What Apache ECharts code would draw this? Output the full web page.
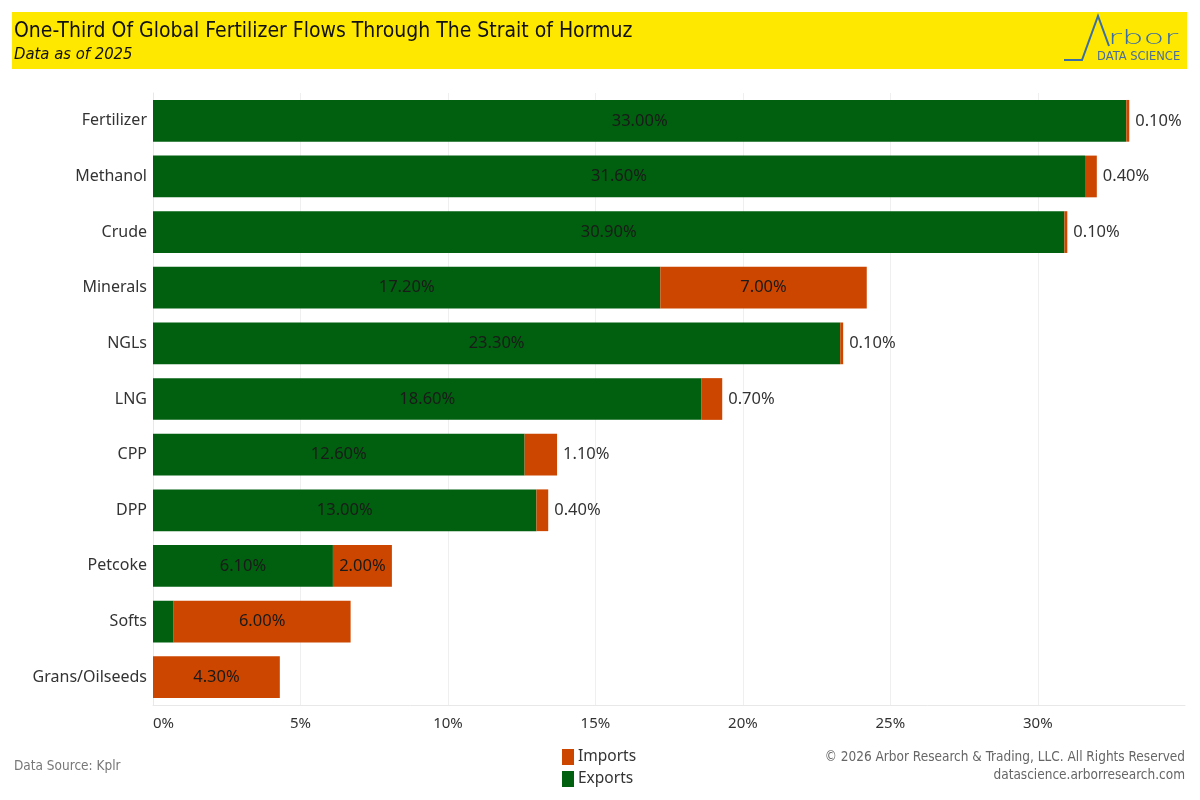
<!DOCTYPE html>
<html>
<head>
<meta charset="utf-8">
<script src="https://cdn.jsdelivr.net/npm/echarts@6/dist/echarts.min.js"></script>
<style>
html,body{margin:0;padding:0;background:#fff;}
#chart{width:1200px;height:800px;}
</style>
</head>
<body>
<div id="chart"></div>
<script>
const categories = ['Fertilizer','Methanol','Crude','Minerals','NGLs','LNG','CPP','DPP','Petcoke','Softs','Grans/Oilseeds'];
const exportsValues = [33.0, 31.6, 30.9, 17.2, 23.3, 18.6, 12.6, 13.0, 6.1, 0.7, 0];
const importsValues = [0.1, 0.4, 0.1, 7.0, 0.1, 0.7, 1.1, 0.4, 2.0, 6.0, 4.3];
const xTicks = [0, 5, 10, 15, 20, 25, 30];

const GREEN = '#00600f';
const ORANGE = '#cc4600';
const LOGO = '#3a6ea5';
const NARROW = "'Liberation Sans Narrow','DejaVu Sans Condensed','Roboto',sans-serif";
const BASE = "'Noto Sans','Open Sans',sans-serif";

const chart = echarts.init(document.getElementById('chart'));
const fmt = p => p.value.toFixed(2) + '%';

chart.setOption({
  animation: false,
  backgroundColor: '#fff',
  grid: { left: 153, right: 15, top: 93, bottom: 95, containLabel: false },
  xAxis: {
    type: 'value', min: 0, max: 34.99, interval: 5,
    axisLine: { show: true, lineStyle: { color: '#e8e8e8' } },
    axisTick: { show: false },
    splitLine: { show: true, showMaxLine: false, lineStyle: { color: '#efefef' } },
    axisLabel: {
      color: '#333', fontSize: 15, fontFamily: BASE, margin: 11,
      alignMinLabel: 'left',
      formatter: v => xTicks.includes(v) ? v + '%' : ''
    }
  },
  yAxis: {
    type: 'category', data: categories, inverse: true,
    axisLine: { show: true, lineStyle: { color: '#e8e8e8' } },
    axisTick: { show: false },
    axisLabel: { color: '#333', fontSize: 16, fontFamily: BASE, margin: 6 }
  },
  legend: {
    orient: 'vertical', left: 557, top: 744,
    data: ['Imports', 'Exports'],
    icon: 'rect', itemWidth: 12, itemHeight: 16, itemGap: 6,
    textStyle: { color: '#333', fontSize: 15.5, fontFamily: BASE, padding: [0, 0, 0, -1] },
    selectedMode: false
  },
  series: [
    {
      name: 'Exports', type: 'bar', stack: 'total', barWidth: '75%',
      itemStyle: { color: GREEN },
      data: exportsValues.map(v => ({ value: v, label: { show: v >= 2 } })),
      label: { position: 'inside', color: '#1a1a1a', fontSize: 16.5, fontFamily: BASE, formatter: fmt }
    },
    {
      name: 'Imports', type: 'bar', stack: 'total', barWidth: '75%',
      itemStyle: { color: ORANGE },
      data: importsValues.map(v => ({ value: v, label: { position: v >= 2 ? 'inside' : 'right', color: v >= 2 ? '#1a1a1a' : '#333' } })),
      label: { show: true, fontSize: 16.5, fontFamily: BASE, distance: 6, formatter: fmt }
    }
  ],
  graphic: [
    { type: 'rect', shape: { x: 12, y: 12, width: 1175, height: 57 }, style: { fill: '#ffe800' }, silent: true },
    { type: 'text', left: 14, top: 21, style: { text: 'One-Third Of Global Fertilizer Flows Through The Strait of Hormuz', fill: '#111', font: "21px " + NARROW } },
    { type: 'text', left: 14, top: 46, style: { text: 'Data as of 2025', fill: '#111', font: "italic 16.5px " + NARROW } },
    { type: 'polyline', shape: { points: [[1064, 60], [1082, 60], [1098, 16], [1109, 46]] }, style: { stroke: LOGO, lineWidth: 2, fill: 'none' }, silent: true },
    {
      type: 'group', x: 1108, y: 49, scaleX: 1.7, scaleY: 1,
      children: [
        { type: 'text', x: 0, y: 0, style: { text: 'rbor', fill: LOGO, font: "200 20px 'DejaVu Sans'", textVerticalAlign: 'bottom', textAlign: 'left' } }
      ]
    },
    { type: 'text', x: 1097, y: 51, style: { text: 'DATA SCIENCE', fill: '#4a6d9a', font: "11.5px 'DejaVu Sans'" } },
    { type: 'text', left: 14, top: 759, style: { text: 'Data Source: Kplr', fill: '#777', font: "13.5px " + NARROW } },
    { type: 'text', right: 15, top: 750, style: { text: '© 2026 Arbor Research & Trading, LLC. All Rights Reserved', fill: '#666', font: "13.5px " + NARROW } },
    { type: 'text', right: 15, top: 768, style: { text: 'datascience.arborresearch.com', fill: '#666', font: "13.5px " + NARROW } }
  ]
});
</script>
</body>
</html>
